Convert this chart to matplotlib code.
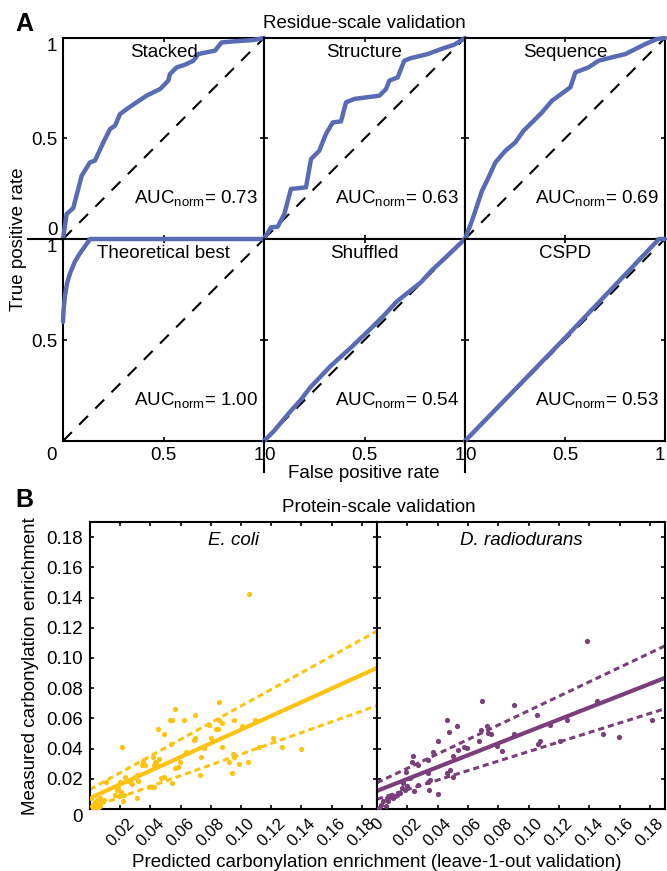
import matplotlib
matplotlib.use("Agg")
import matplotlib.pyplot as plt
from matplotlib.lines import Line2D

plt.rcParams["font.family"] = ["Liberation Sans", "DejaVu Sans"]
plt.rcParams["mathtext.fontset"] = "custom"
plt.rcParams["mathtext.rm"] = "Liberation Sans"
plt.rcParams["mathtext.it"] = "Liberation Sans:italic"
plt.rcParams["font.size"] = 13.5

# ---- Panel A: ROC curves ----
roc_names = ["Stacked", "Structure", "Sequence", "Theoretical best", "Shuffled", "CSPD"]
roc_auc = ["0.73", "0.63", "0.69", "1.00", "0.54", "0.53"]

stacked_fpr = [0, 0.018, 0.051, 0.093, 0.134, 0.159, 0.201, 0.234, 0.259, 0.284, 0.318, 0.366,
               0.416, 0.483, 0.524, 0.532, 0.566, 0.607, 0.649, 0.673, 0.715, 0.756, 0.789,
               0.847, 0.947, 1.0]
stacked_tpr = [0, 0.124, 0.154, 0.315, 0.381, 0.390, 0.481, 0.547, 0.564, 0.622, 0.647, 0.680,
               0.713, 0.746, 0.788, 0.821, 0.854, 0.867, 0.887, 0.920, 0.929, 0.937, 0.978,
               0.983, 0.990, 1.0]
structure_fpr = [0, 0.035, 0.068, 0.101, 0.134, 0.209, 0.234, 0.275, 0.308, 0.342, 0.383, 0.408,
                 0.450, 0.574, 0.607, 0.624, 0.665, 0.698, 0.731, 0.814, 0.881, 0.947, 1.0]
structure_tpr = [0, 0.058, 0.061, 0.124, 0.249, 0.257, 0.398, 0.439, 0.522, 0.580, 0.585, 0.680,
                 0.697, 0.713, 0.746, 0.788, 0.804, 0.887, 0.900, 0.920, 0.945, 0.967, 1.0]
sequence_fpr = [0, 0.035, 0.085, 0.110, 0.152, 0.202, 0.252, 0.293, 0.335, 0.385, 0.435, 0.493,
                0.527, 0.552, 0.618, 0.668, 0.735, 0.802, 0.852, 0.902, 0.960, 1.0]
sequence_tpr = [0, 0.091, 0.240, 0.290, 0.381, 0.439, 0.481, 0.539, 0.580, 0.630, 0.688, 0.730,
                0.755, 0.829, 0.854, 0.887, 0.904, 0.920, 0.945, 0.970, 0.995, 1.0]
best_fpr = [0, 0.003, 0.01, 0.02, 0.035, 0.06, 0.085, 0.11, 0.135, 1.0]
best_tpr = [0.59, 0.65, 0.72, 0.78, 0.83, 0.89, 0.93, 0.965, 1.0, 1.0]
shuffled_fpr = [0, 0.05, 0.13, 0.18, 0.23, 0.33, 0.43, 0.54, 0.60, 0.66, 0.78, 0.83, 0.91, 1.0]
shuffled_tpr = [0, 0.05, 0.145, 0.20, 0.265, 0.37, 0.46, 0.565, 0.625, 0.69, 0.785, 0.84, 0.915, 1.0]
cspd_fpr = [0, 0.5, 0.97, 1.0]
cspd_tpr = [0, 0.51, 1.0, 1.0]

roc_fpr = [stacked_fpr, structure_fpr, sequence_fpr, best_fpr, shuffled_fpr, cspd_fpr]
roc_tpr = [stacked_tpr, structure_tpr, sequence_tpr, best_tpr, shuffled_tpr, cspd_tpr]

# ---- Panel B: protein-scale scatter ----
ecoli_pred = [0.1051, 0.0857, 0.0565, 0.0453, 0.0488, 0.0532, 0.0543, 0.0622, 0.0692, 0.0787,
              0.0831, 0.0846, 0.0857, 0.0873, 0.0952, 0.1007, 0.1092, 0.1213, 0.1270, 0.1400,
              0.0875, 0.0802, 0.0697, 0.0686, 0.0758, 0.0637, 0.0534, 0.0215, 0.0352, 0.0363,
              0.0345, 0.0418, 0.0429, 0.0440, 0.0422, 0.0457, 0.0565, 0.0582, 0.0593, 0.0736,
              0.0945, 0.0956, 0.0923, 0.0985, 0.1044, 0.1121, 0.0941, 0.0725, 0.0545, 0.0490,
              0.0473, 0.0411, 0.0391, 0.0424, 0.0308, 0.0301, 0.0319, 0.0264, 0.0275, 0.0231,
              0.0198, 0.0187, 0.0176, 0.0165, 0.0193, 0.0220, 0.0312, 0.0224, 0.0204, 0.0105,
              0.0095, 0.0077, 0.0066, 0.0048, 0.0033, 0.0022, 0.0011, 0.0044, 0.0004, 0.0018,
              0.0055, 0.0066]
ecoli_meas = [0.1424, 0.0710, 0.0664, 0.0527, 0.0497, 0.0589, 0.0589, 0.0589, 0.0622, 0.0556,
              0.0527, 0.0527, 0.0589, 0.0571, 0.0589, 0.0552, 0.0589, 0.0473, 0.0413, 0.0398,
              0.0413, 0.0473, 0.0473, 0.0457, 0.0402, 0.0380, 0.0431, 0.0413, 0.0319, 0.0288,
              0.0288, 0.0347, 0.0308, 0.0303, 0.0292, 0.0330, 0.0270, 0.0281, 0.0308, 0.0343,
              0.0365, 0.0347, 0.0308, 0.0299, 0.0308, 0.0413, 0.0237, 0.0226, 0.0171, 0.0209,
              0.0204, 0.0145, 0.0145, 0.0145, 0.0226, 0.0209, 0.0187, 0.0182, 0.0167, 0.0209,
              0.0178, 0.0138, 0.0127, 0.0095, 0.0084, 0.0051, 0.0073, 0.0095, 0.0110, 0.0182,
              0.0062, 0.0051, 0.0073, 0.0062, 0.0044, 0.0029, 0.0018, 0.0029, 0.0073, 0.0007,
              0.0007, 0.0022]
drad_pred = [0.1387, 0.0690, 0.0903, 0.1053, 0.1453, 0.1251, 0.1141, 0.0464, 0.0525, 0.0477,
             0.0723, 0.0686, 0.0734, 0.0752, 0.0675, 0.0404, 0.0371, 0.0240, 0.0233, 0.0273,
             0.0191, 0.0338, 0.0503, 0.0536, 0.0574, 0.0591, 0.0789, 0.0822, 0.0903, 0.1064,
             0.1075, 0.1207, 0.1488, 0.1598, 0.1811, 0.0459, 0.0481, 0.0499, 0.0338, 0.0349,
             0.0338, 0.0345, 0.0404, 0.0246, 0.0273, 0.0218, 0.0174, 0.0152, 0.0163, 0.0130,
             0.0108, 0.0064, 0.0075, 0.0042, 0.0024, 0.0059, 0.0015, 0.0099, 0.0196, 0.0119,
             0.0092, 0.0185]
drad_meas = [0.1110, 0.0714, 0.0688, 0.0622, 0.0714, 0.0589, 0.0556, 0.0589, 0.0552, 0.0512,
             0.0552, 0.0523, 0.0501, 0.0497, 0.0451, 0.0453, 0.0380, 0.0354, 0.0310, 0.0292,
             0.0248, 0.0325, 0.0354, 0.0391, 0.0413, 0.0402, 0.0420, 0.0385, 0.0497, 0.0429,
             0.0453, 0.0451, 0.0497, 0.0475, 0.0589, 0.0237, 0.0259, 0.0215, 0.0237, 0.0193,
             0.0182, 0.0127, 0.0099, 0.0116, 0.0160, 0.0204, 0.0171, 0.0105, 0.0138, 0.0095,
             0.0073, 0.0073, 0.0055, 0.0051, 0.0029, 0.0018, 0.0007, 0.0095, 0.0154, 0.0084,
             0.0077, 0.0125]

fit_x = [0, 0.19]
ecoli_fit = [0.0072, 0.0934]
ecoli_hi = [0.013, 0.1178]
ecoli_lo = [0.0007, 0.0684]
drad_fit = [0.012, 0.0868]
drad_hi = [0.0174, 0.108]
drad_lo = [0.0065, 0.0664]

b_ticks = [0, 0.02, 0.04, 0.06, 0.08, 0.10, 0.12, 0.14, 0.16, 0.18]
b_labels = ["0", "0.02", "0.04", "0.06", "0.08", "0.10", "0.12", "0.14", "0.16", "0.18"]

ROC_COLOR = "#5a6bb5"
ECOLI_COLOR = "#ffc20e"
DRAD_COLOR = "#7a3e7a"

W, H = 667, 871
fig = plt.figure(figsize=(W / 100, H / 100), dpi=100)


def px_axes(x0, y0, x1, y1):
    """Axes placed by pixel box (top-left origin)."""
    return fig.add_axes([x0 / W, 1 - y1 / H, (x1 - x0) / W, (y1 - y0) / H])


def style_spines(ax):
    for s in ax.spines.values():
        s.set_linewidth(1.5)


# ---- A ----
col_edges = [63, 264, 465, 665]
row_edges = [38, 239, 441]

for i, name in enumerate(roc_names):
    r, c = divmod(i, 3)
    ax = px_axes(col_edges[c], row_edges[r], col_edges[c + 1], row_edges[r + 1])
    style_spines(ax)
    ax.plot([0, 1], [0, 1], color="k", lw=1.5, linestyle=(0, (6, 5)))
    ax.plot(roc_fpr[i], roc_tpr[i], color=ROC_COLOR, lw=3.2, clip_on=False, zorder=3,
            solid_joinstyle="round", solid_capstyle="round")
    ax.set_xlim(0, 1)
    ax.set_ylim(0, 1)
    ax.set_xticks([0, 0.5, 1])
    ax.set_yticks([0, 0.5, 1])
    ax.tick_params(direction="in", length=3, width=1.2, top=True, right=True,
                   labelleft=(c == 0), labelbottom=(r == 1), pad=4)

    if c == 0:
        if r == 0:
            ax.set_yticklabels(["0", "0.5", "1"])
            labs = ax.get_yticklabels()
            labs[0].set_va("bottom")
            labs[2].set_va("top")
        else:
            ax.set_yticklabels(["", "0.5", "1"])
            ax.get_yticklabels()[2].set_va("top")
    if r == 1:
        if c == 0:
            ax.set_xticklabels(["", "0.5", "1"])
            ax.text(-0.03, -0.07, "0", transform=ax.transAxes, ha="right", va="center")
        else:
            ax.set_xticklabels(["0", "0.5", "1"])
            ax.get_xticklabels()[0].set_ha("left")
        ax.get_xticklabels()[2].set_ha("right")

    ax.text(0.5, 0.928, name, transform=ax.transAxes, ha="center", va="center")
    ax.text(0.97, 0.205, r"AUC$_{\rm norm}$= " + roc_auc[i], transform=ax.transAxes,
            ha="right", va="center")

# small extensions of the grid lines outside the panels
fig.add_artist(Line2D([28 / W, 63 / W], [1 - 239 / H, 1 - 239 / H], color="k", lw=1.5))
for xv in (264, 465):
    fig.add_artist(Line2D([xv / W, xv / W], [1 - 441 / H, 1 - 472 / H], color="k", lw=1.5))

fig.text(24 / W, 1 - 24 / H, "A", fontsize=18, weight="bold", ha="center", va="center")
fig.text(364 / W, 1 - 24 / H, "Residue-scale validation", ha="center", va="center")
fig.text(19 / W, 1 - 239 / H, "True positive rate", rotation=90, ha="center", va="center")
fig.text(364 / W, 1 - 473 / H, "False positive rate", ha="center", va="center")

# ---- B ----
bx1 = px_axes(90, 522, 377, 809)
bx2 = px_axes(377, 522, 665, 809)

panels = [
    (bx1, "E. coli", ecoli_pred, ecoli_meas, ecoli_fit, ecoli_hi, ecoli_lo, ECOLI_COLOR),
    (bx2, "D. radiodurans", drad_pred, drad_meas, drad_fit, drad_hi, drad_lo, DRAD_COLOR),
]
for k, (ax, title, px, py, fit, hi, lo, col) in enumerate(panels):
    style_spines(ax)
    ax.scatter(px, py, s=14, color=col, linewidths=0, zorder=3)
    ax.plot(fit_x, fit, color=col, lw=3)
    ax.plot(fit_x, hi, color=col, lw=2.2, linestyle=(0, (2, 1.3)))
    ax.plot(fit_x, lo, color=col, lw=2.2, linestyle=(0, (2, 1.3)))
    ax.set_xlim(0, 0.19)
    ax.set_ylim(0, 0.19)
    ax.set_xticks(b_ticks)
    ax.set_yticks(b_ticks)
    ax.tick_params(direction="in", length=3, width=1.2, top=True, right=True,
                   labelleft=(k == 0), pad=5)
    ax.tick_params(axis="x", labelsize=12)
    if k == 0:
        ax.set_xticklabels([""] + b_labels[1:], rotation=45)
        ax.set_yticklabels(b_labels)
        ax.get_yticklabels()[0].set_va("top")
    else:
        ax.set_xticklabels(b_labels, rotation=45)
    ax.text(0.5, 0.937, title, style="italic", transform=ax.transAxes,
            ha="center", va="center")

fig.text(24 / W, 1 - 500 / H, "B", fontsize=18, weight="bold", ha="center", va="center")
fig.text(379 / W, 1 - 508 / H, "Protein-scale validation", ha="center", va="center")
fig.text(31 / W, 1 - 666 / H, "Measured carbonylation enrichment", rotation=90,
         ha="center", va="center")
fig.text(377 / W, 1 - 862 / H, "Predicted carbonylation enrichment (leave-1-out validation)",
         ha="center", va="center")

fig.savefig("out.png", dpi=100)
